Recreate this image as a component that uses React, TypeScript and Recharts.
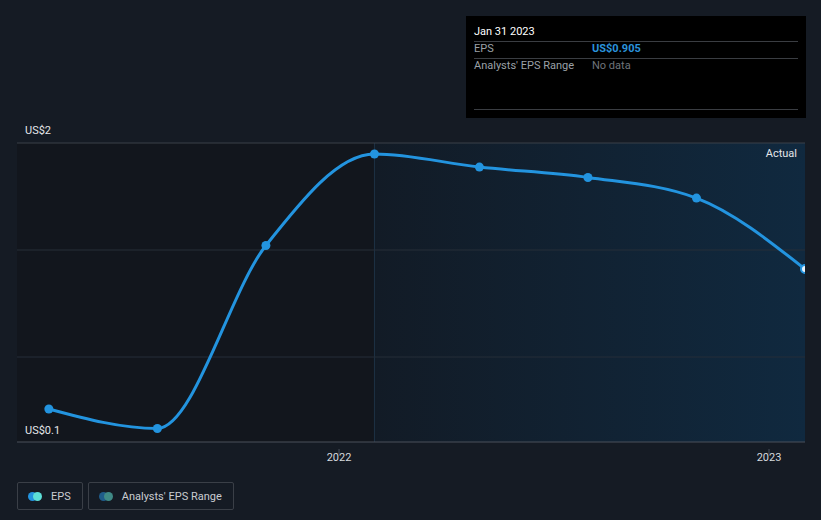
import {
  ComposedChart,
  Line,
  XAxis,
  YAxis,
  ReferenceLine,
  ReferenceArea,
} from "recharts";

const periods = [
  "2021-04-30",
  "2021-07-31",
  "2021-10-31",
  "2022-01-31",
  "2022-04-30",
  "2022-07-31",
  "2022-10-31",
  "2023-01-31",
];
const eps = [0.31, 0.186, 1.349, 1.93, 1.847, 1.781, 1.65, 1.199];
const yearTicks = ["2022-01-01", "2023-01-01"];
const gridValues = [2, 1.32, 0.64];
const yLabels = ["US$2", "US$0.1"];

const toTs = (d: string) => new Date(d + "T00:00:00Z").getTime();

const data = periods.map((p, i) => ({ ts: toTs(p), eps: eps[i] }));
const domainStart = toTs("2021-04-03");
const domainEnd = toTs("2023-01-31");
const actualStart = toTs("2022-01-31");

const FONT = "Roboto, 'Noto Sans', sans-serif";
const LINE = "#2394df";

function EpsDot(props: any) {
  const { cx, cy, index } = props;
  if (cx == null || cy == null) return null;
  if (index === data.length - 1) {
    return <circle cx={cx} cy={cy} r={4} fill="#e8f3fc" stroke={LINE} strokeWidth={2} />;
  }
  return <circle cx={cx} cy={cy} r={4.5} fill={LINE} />;
}

function YearTick(props: any) {
  const { x, y, payload } = props;
  return (
    <g>
      <line x1={x} x2={x} y1={y - 1} y2={y + 4} stroke="#4a505a" strokeWidth={1} />
      <text x={x} y={y + 11} textAnchor="middle" fill="#d6d9de" fontSize={11} fontFamily={FONT}>
        {new Date(payload.value).getUTCFullYear()}
      </text>
    </g>
  );
}

const legendBox = {
  display: "flex",
  alignItems: "center",
  height: 26,
  padding: "0 11px 0 10px",
  border: "1px solid #3a3f47",
  borderRadius: 2,
} as const;

export default function App() {
  return (
    <div style={{ position: "absolute", left: 0, top: 0, width: 821, height: 520, background: "#151b24", fontFamily: FONT }}>
      <ComposedChart width={821} height={520} data={data} margin={{ top: 143, right: 16, left: 17, bottom: 48 }}>
        <defs>
          <linearGradient id="actualGradient" x1="0" y1="0" x2="1" y2="0">
            <stop offset="0%" stopColor="#121b26" />
            <stop offset="100%" stopColor="#10293f" />
          </linearGradient>
        </defs>
        <XAxis
          dataKey="ts"
          type="number"
          scale="time"
          domain={[domainStart, domainEnd]}
          ticks={yearTicks.map(toTs)}
          tick={<YearTick />}
          tickLine={false}
          axisLine={{ stroke: "#4a505a" }}
          height={30}
          allowDataOverflow
        />
        <YAxis hide domain={[0.1, 2]} type="number" allowDataOverflow />
        <ReferenceArea x1={domainStart} x2={actualStart} y1={0.1} y2={2} fill="#12161d" fillOpacity={1} stroke="none" ifOverflow="hidden" />
        <ReferenceArea x1={actualStart} x2={domainEnd} y1={0.1} y2={2} fill="url(#actualGradient)" fillOpacity={1} stroke="none" ifOverflow="hidden" />
        <ReferenceLine x={actualStart} stroke="#1e3246" strokeWidth={1} />
        {gridValues.map((v, i) => (
          <ReferenceLine
            key={v}
            y={v}
            stroke={i === 0 ? "#3a4049" : "#262e38"}
            strokeWidth={1}
          />
        ))}
        <Line
          type="monotone"
          dataKey="eps"
          stroke={LINE}
          strokeWidth={3}
          dot={<EpsDot />}
          activeDot={false}
          isAnimationActive={false}
        />
      </ComposedChart>

      <div style={{ position: "absolute", left: 25, top: 124, color: "#e4e6ea", fontSize: 11 }}>{yLabels[0]}</div>
      <div style={{ position: "absolute", left: 25, top: 424, color: "#e4e6ea", fontSize: 11 }}>{yLabels[1]}</div>
      <div style={{ position: "absolute", right: 24, top: 147, color: "#e4e6ea", fontSize: 11 }}>Actual</div>

      <div
        style={{
          position: "absolute",
          left: 466,
          top: 16,
          width: 340,
          height: 102,
          background: "#000",
          fontSize: 11,
        }}
      >
        <div style={{ position: "absolute", left: 8, top: 9, color: "#fff" }}>Jan 31 2023</div>
        <div style={{ position: "absolute", left: 8, right: 8, top: 25, borderTop: "1px solid #3a3d42" }} />
        <div style={{ position: "absolute", left: 8, top: 26, color: "#9ba0a7" }}>EPS</div>
        <div style={{ position: "absolute", left: 126, top: 26, color: "#2a93dc", fontWeight: 700 }}>US$0.905</div>
        <div style={{ position: "absolute", left: 8, right: 8, top: 42, borderTop: "1px solid #3a3d42" }} />
        <div style={{ position: "absolute", left: 8, top: 43, color: "#9ba0a7" }}>Analysts' EPS Range</div>
        <div style={{ position: "absolute", left: 126, top: 43, color: "#6f747b" }}>No data</div>
        <div style={{ position: "absolute", left: 8, right: 8, top: 93, borderTop: "1px solid #3a3d42" }} />
      </div>

      <div style={{ position: "absolute", left: 17, top: 482, display: "flex", gap: 5, fontSize: 11, color: "#c9ccd1" }}>
        <div style={legendBox}>
          <span style={{ position: "relative", width: 14, height: 9, marginRight: 9 }}>
            <span style={{ position: "absolute", left: 0, width: 9, height: 9, borderRadius: 5, background: "#2394df" }} />
            <span style={{ position: "absolute", left: 5, width: 9, height: 9, borderRadius: 5, background: "#5de0d8" }} />
          </span>
          EPS
        </div>
        <div style={legendBox}>
          <span style={{ position: "relative", width: 14, height: 9, marginRight: 9 }}>
            <span style={{ position: "absolute", left: 0, width: 9, height: 9, borderRadius: 5, background: "#1f5c8a" }} />
            <span style={{ position: "absolute", left: 5, width: 9, height: 9, borderRadius: 5, background: "#3f8a86" }} />
          </span>
          Analysts' EPS Range
        </div>
      </div>
    </div>
  );
}
